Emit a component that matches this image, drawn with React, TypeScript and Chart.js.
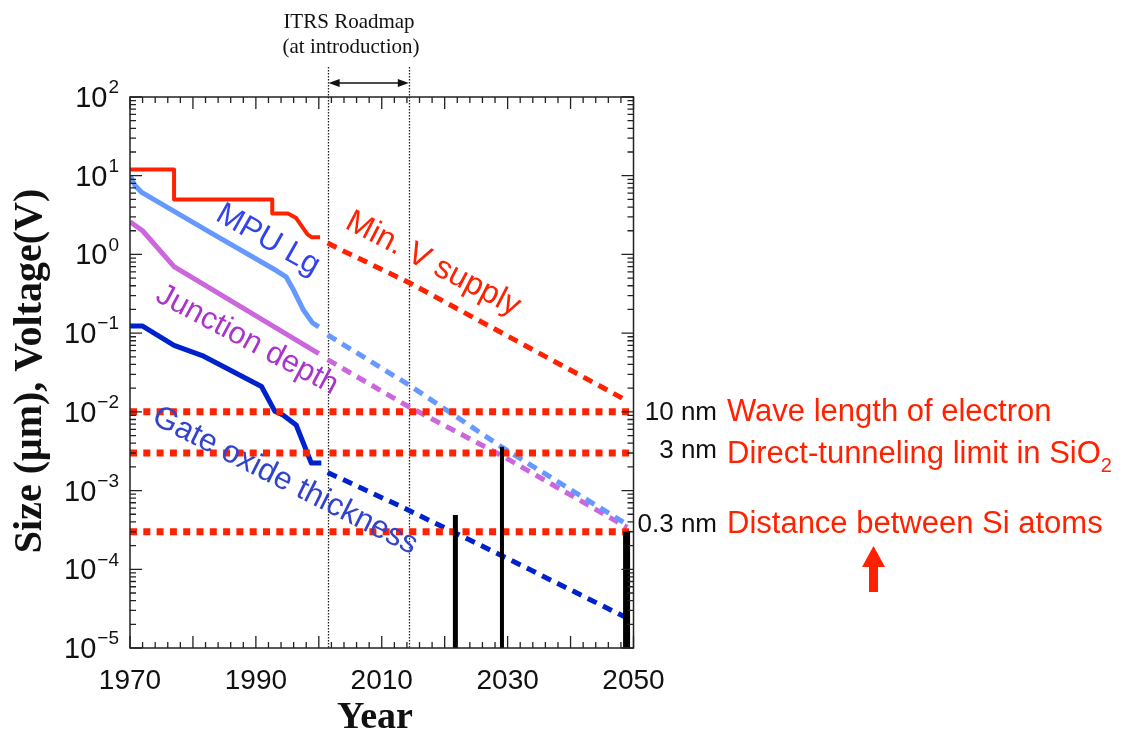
import React, { useEffect, useRef } from "react";
import { Chart, registerables } from "chart.js";

Chart.register(...registerables);

// ---------- data ----------
const X_MIN = 1970;
const X_MAX = 2050;
const Y_MIN = 1e-5;
const Y_MAX = 1e2;
const xTickLabels = [1970, 1990, 2010, 2030, 2050];
const yDecadeExponents = [2, 1, 0, -1, -2, -3, -4, -5];

// Min. V supply (V)
const vSupplyYears = [1970, 1977, 1977, 1992.6, 1992.6, 1995.1, 1996.4, 1998.2, 1998.9, 2000.2];
const vSupplyValues = [12, 12, 5, 5, 3.3, 3.3, 2.9, 1.8, 1.65, 1.65];
const vSupplyProjYears = [2001.4, 2003, 2014.3, 2049];
const vSupplyProjValues = [1.4, 1.2, 0.44, 0.0138];

// MPU Lg (um)
const mpuYears = [1970, 1970.8, 1971.8, 1983, 1993.3, 1994.8, 1996, 1997.5, 1999, 2000];
const mpuValues = [10, 7.5, 6.2, 1.85, 0.62, 0.52, 0.35, 0.2, 0.135, 0.12];
const mpuProjYears = [2001.4, 2014.3, 2029, 2049];
const mpuProjValues = [0.095, 0.022, 0.0036, 0.00037];

// Junction depth (um)
const junctionYears = [1970, 1972, 1977, 2000];
const junctionValues = [2.6, 2.0, 0.7, 0.055];
const junctionProjYears = [2001.4, 2014.3, 2029, 2049];
const junctionProjValues = [0.046, 0.0116, 0.0028, 0.00034];

// Gate oxide thickness (um)
const gateYears = [1970, 1972, 1977, 1981.7, 1990.9, 1993, 1994.3, 1996.4, 1998.8, 2000.4];
const gateValues = [0.123, 0.123, 0.07, 0.051, 0.021, 0.0102, 0.0091, 0.0068, 0.00224, 0.00224];
const gateProjYears = [2001.4, 2013, 2029, 2049];
const gateProjValues = [0.0017, 0.00063, 0.00015, 0.000024];

// Physical limits (um)
const limitValues = [0.01, 0.003, 0.0003];
const limitSizeLabels = ["10 nm", "3 nm", "0.3 nm"];
const limitTexts = ["Wave length of electron", "Direct-tunneling limit in SiO", "Distance between Si atoms"];

// Black marker bars (year, top value)
const barYears = [2021.7, 2029.1, 2048.9];
const barTops = [0.00049, 0.0036, 0.0003];
const barWidths = [5, 4, 7];

// ITRS roadmap window
const roadmapYears = [2001.4, 2014.3];

// ---------- helpers ----------
const pts = (xs: number[], ys: number[]) => xs.map((x, i) => ({ x, y: ys[i] }));

const RED = "#FF2200";
const MPU = "#6699FF";
const JUNC = "#CC66DD";
const GATE = "#0022CC";
const SANS = "'Liberation Sans', Arial, sans-serif";
const SERIF = "'Liberation Serif', 'Times New Roman', serif";

function solid(data: any[], color: string, width: number) {
  return { data, borderColor: color, borderWidth: width, pointRadius: 0, fill: false, order: 3, borderJoinStyle: "round", borderCapStyle: "butt" };
}
function dashed(data: any[], color: string) {
  return { data, borderColor: color, borderWidth: 5, borderDash: [10, 7], pointRadius: 0, fill: false, order: 3, borderCapStyle: "butt" };
}

function rotText(ctx: CanvasRenderingContext2D, text: string, cx: number, cy: number, deg: number, font: string, color: string) {
  ctx.save();
  ctx.translate(cx, cy);
  ctx.rotate((deg * Math.PI) / 180);
  ctx.font = font;
  ctx.fillStyle = color;
  ctx.textAlign = "center";
  ctx.textBaseline = "middle";
  ctx.fillText(text, 0, 0);
  ctx.restore();
}

const overlay = {
  id: "overlay",
  beforeDatasetsDraw(chart: any) {
    const { ctx, chartArea: a, scales } = chart;
    const xs = scales.x;
    ctx.save();
    ctx.strokeStyle = "#222";
    ctx.lineWidth = 1.3;
    ctx.setLineDash([1.5, 1.5]);
    roadmapYears.forEach((yr) => {
      const px = Math.round(xs.getPixelForValue(yr)) + 0.5;
      ctx.beginPath();
      ctx.moveTo(px, a.top - 30);
      ctx.lineTo(px, a.bottom);
      ctx.stroke();
    });
    ctx.restore();
  },
  afterDatasetsDraw(chart: any) {
    const { ctx, chartArea: a, scales } = chart;
    const xs = scales.x;
    const ys = scales.y;
    ctx.save();

    // frame
    ctx.strokeStyle = "#222";
    ctx.lineWidth = 1.5;
    ctx.strokeRect(a.left, a.top, a.right - a.left, a.bottom - a.top);

    // x ticks (inward, top & bottom)
    ctx.lineWidth = 1.3;
    for (let yr = X_MIN; yr <= X_MAX; yr += 2) {
      const px = xs.getPixelForValue(yr);
      const len = yr % 10 === 0 ? 12 : 6;
      ctx.beginPath();
      ctx.moveTo(px, a.bottom);
      ctx.lineTo(px, a.bottom - len);
      ctx.moveTo(px, a.top);
      ctx.lineTo(px, a.top + len);
      ctx.stroke();
    }
    // y ticks (inward, left & right)
    for (let e = -5; e <= 2; e++) {
      for (let m = 1; m <= 9; m++) {
        const v = m * Math.pow(10, e);
        if (v > Y_MAX * 1.0001) break;
        const py = ys.getPixelForValue(v);
        const len = m === 1 ? 12 : 6;
        ctx.beginPath();
        ctx.moveTo(a.left, py);
        ctx.lineTo(a.left + len, py);
        ctx.moveTo(a.right, py);
        ctx.lineTo(a.right - len, py);
        ctx.stroke();
      }
    }

    // x tick labels
    ctx.fillStyle = "#111";
    ctx.font = `28px ${SANS}`;
    ctx.textAlign = "center";
    ctx.textBaseline = "middle";
    xTickLabels.forEach((yr) => {
      ctx.fillText(String(yr), xs.getPixelForValue(yr), a.bottom + 33);
    });

    // y tick labels 10^n
    yDecadeExponents.forEach((e) => {
      const py = ys.getPixelForValue(Math.pow(10, e));
      const expStr = e < 0 ? "\u2212" + Math.abs(e) : String(e);
      ctx.font = `19px ${SANS}`;
      ctx.textAlign = "right";
      ctx.textBaseline = "middle";
      const right = a.left - 11;
      const ew = ctx.measureText(expStr).width;
      ctx.fillText(expStr, right, py - 9);
      ctx.font = `29px ${SANS}`;
      ctx.fillText("10", right - ew - 1, py + 2);
    });

    // axis titles
    ctx.fillStyle = "#111";
    ctx.font = `bold 38px ${SERIF}`;
    ctx.textAlign = "center";
    ctx.textBaseline = "middle";
    ctx.fillText("Year", 375, 718);
    rotText(ctx, "Size (\u03BCm), Voltage(V)", 31, 371, -90, `bold 40px ${SERIF}`, "#111");

    // series labels
    rotText(ctx, "MPU Lg", 268, 240, 29.5, `31.5px ${SANS}`, "#3344EE");
    rotText(ctx, "Junction depth", 247, 340, 28, `31px ${SANS}`, "#AA33CC");
    rotText(ctx, "Gate oxide thickness", 285, 481, 26.8, `31.5px ${SANS}`, "#3344CC");
    rotText(ctx, "Min. V supply", 433, 264, 27.5, `32px ${SANS}`, RED);

    // limit labels on the right
    const sizeOffsets = [1, -2, -7];
    limitValues.forEach((v, i) => {
      const py = ys.getPixelForValue(v);
      ctx.font = `26px ${SANS}`;
      ctx.fillStyle = "#111";
      ctx.textAlign = "right";
      ctx.textBaseline = "middle";
      ctx.fillText(limitSizeLabels[i], 717, py + sizeOffsets[i]);
      ctx.font = `31px ${SANS}`;
      ctx.fillStyle = RED;
      ctx.textAlign = "left";
      const ty = py + (i === 2 ? -7 : 1);
      ctx.fillText(limitTexts[i], 727, ty);
      if (i === 1) {
        const w = ctx.measureText(limitTexts[i]).width;
        ctx.font = `20px ${SANS}`;
        ctx.fillText("2", 727 + w, ty + 12);
      }
    });

    // red up arrow
    ctx.fillStyle = RED;
    ctx.fillRect(869, 566, 9, 26);
    ctx.beginPath();
    ctx.moveTo(862, 567);
    ctx.lineTo(885, 567);
    ctx.lineTo(873.5, 546);
    ctx.closePath();
    ctx.fill();

    // ITRS roadmap annotation
    const x1 = xs.getPixelForValue(roadmapYears[0]) + 1;
    const x2 = xs.getPixelForValue(roadmapYears[1]);
    const ay = 83;
    ctx.strokeStyle = "#111";
    ctx.fillStyle = "#111";
    ctx.lineWidth = 1.3;
    ctx.beginPath();
    ctx.moveTo(x1 + 8, ay);
    ctx.lineTo(x2 - 8, ay);
    ctx.stroke();
    ctx.beginPath();
    ctx.moveTo(x1, ay);
    ctx.lineTo(x1 + 11, ay - 4);
    ctx.lineTo(x1 + 11, ay + 4);
    ctx.closePath();
    ctx.fill();
    ctx.beginPath();
    ctx.moveTo(x2, ay);
    ctx.lineTo(x2 - 11, ay - 4);
    ctx.lineTo(x2 - 11, ay + 4);
    ctx.closePath();
    ctx.fill();
    ctx.font = `21px ${SERIF}`;
    ctx.textAlign = "center";
    ctx.textBaseline = "middle";
    ctx.fillText("ITRS Roadmap", 349, 22);
    ctx.fillText("(at introduction)", 351, 47);

    ctx.restore();
  },
};

export default function App() {
  const ref = useRef<HTMLCanvasElement | null>(null);
  useEffect(() => {
    if (!ref.current) return;
    const datasets: any[] = [
      ...barYears.map((yr, i) => ({
        data: [{ x: yr, y: Y_MIN }, { x: yr, y: barTops[i] }],
        borderColor: "#000",
        borderWidth: barWidths[i],
        pointRadius: 0,
        fill: false,
        order: 0,
        borderCapStyle: "butt",
      })),
      ...limitValues.map((v) => ({
        data: [{ x: X_MIN, y: v }, { x: X_MAX, y: v }],
        borderColor: RED,
        borderWidth: 7,
        borderDash: [7, 6.3],
        pointRadius: 0,
        fill: false,
        order: 1,
        borderCapStyle: "butt",
      })),
      solid(pts(vSupplyYears, vSupplyValues), RED, 4),
      dashed(pts(vSupplyProjYears, vSupplyProjValues), RED),
      solid(pts(mpuYears, mpuValues), MPU, 5),
      dashed(pts(mpuProjYears, mpuProjValues), MPU),
      solid(pts(junctionYears, junctionValues), JUNC, 5),
      dashed(pts(junctionProjYears, junctionProjValues), JUNC),
      solid(pts(gateYears, gateValues), GATE, 5),
      dashed(pts(gateProjYears, gateProjValues), GATE),
    ];
    const chart = new Chart(ref.current, {
      type: "line",
      data: { datasets },
      options: {
        animation: false,
        responsive: false,
        maintainAspectRatio: false,
        layout: { padding: { left: 130, right: 1135 - 633.5, top: 97, bottom: 735 - 648 } },
        plugins: { legend: { display: false }, tooltip: { enabled: false } },
        scales: {
          x: { type: "linear", min: X_MIN, max: X_MAX, display: false },
          y: { type: "logarithmic", min: Y_MIN, max: Y_MAX, display: false },
        },
        elements: { line: { tension: 0 }, point: { radius: 0 } },
      },
      plugins: [overlay],
    } as any);
    return () => chart.destroy();
  }, []);
  return (
    <div style={{ position: "absolute", left: 0, top: 0, width: 1135, height: 735, background: "#fff" }}>
      <canvas ref={ref} width={1135} height={735} style={{ display: "block", width: 1135, height: 735 }} />
    </div>
  );
}
